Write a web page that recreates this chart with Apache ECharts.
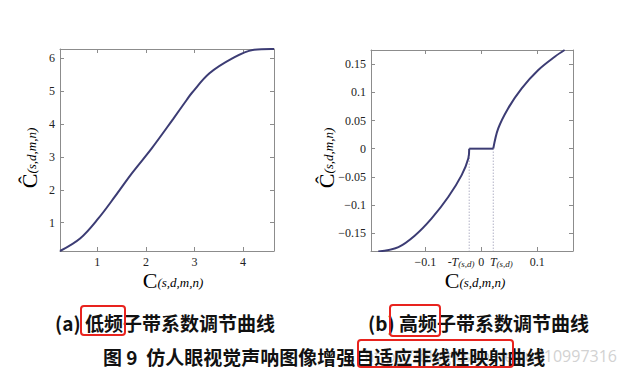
<!DOCTYPE html>
<html><head><meta charset="utf-8">
<script src="https://cdn.jsdelivr.net/npm/echarts@6/dist/echarts.min.js"></script>
<style>html,body{margin:0;padding:0;background:#fff}#c{width:625px;height:378px}</style>
</head><body><div id="c"></div><script>
// ---- data: low-frequency curve (a) ----
const lowX = [0.23, 0.65, 1.02, 1.36, 1.71, 2.12, 2.56, 2.84, 2.95, 3.31, 3.79, 4.20, 4.58, 4.64];
const lowY = [0.14, 0.53, 1.13, 1.79, 2.50, 3.26, 4.15, 4.73, 4.95, 5.54, 6.00, 6.25, 6.28, 6.28];
const lowXRange = [0.23, 4.64];
const lowYRange = [0.14, 6.28];
const lowTickX = [1, 2, 3, 4];
const lowTickY = [1, 2, 3, 4, 5, 6];

// ---- data: high-frequency curve (b) ----
const thresholdT = 0.0215;
const highNegX = [-0.184, -0.148, -0.118, -0.0886, -0.059, -0.035, -0.023, -0.0215];
const highNegY = [-0.183, -0.175, -0.154, -0.124, -0.086, -0.047, -0.017, 0];
const highPosX = [0.0215, 0.0304, 0.048, 0.072, 0.102, 0.132, 0.149];
const highPosY = [0, 0.036, 0.0716, 0.107, 0.140, 0.164, 0.1755];
const highXRange = [-0.197, 0.164];
const highYRange = [-0.182, 0.1755];
const highTickX = [-0.1, 0, 0.1];
const highLabelX = [-0.1, -0.036, 0, 0.036, 0.1];
const highLabelXText = ['\u22120.1', '-{t|T}{s|(s,d)}', '0', '{t|T}{s|(s,d)}', '0.1'];
const highTickY = [-0.15, -0.1, -0.05, 0, 0.05, 0.1, 0.15];
const highTickYText = ['\u22120.15', '\u22120.1', '\u22120.05', '0', '0.05', '0.1', '0.15'];

const zip = (a, b) => a.map((v, i) => [v, b[i]]);

const AX = '#8c8c8c';
const LINE = '#3c3c74';
const SERIF = 'Liberation Serif';
const lab = { fontFamily: SERIF, fontSize: 12, color: '#222' };

function xAx(gi, pos, range, ticks, labels, fmt) {
  return {
    gridIndex: gi, type: 'value', position: pos, min: range[0], max: range[1],
    axisLine: { show: true, onZero: false, lineStyle: { color: AX, width: 1 } },
    axisTick: { show: true, inside: true, length: 4, customValues: ticks, lineStyle: { color: AX } },
    axisLabel: pos === 'bottom' ? Object.assign({ show: true, margin: 5, customValues: labels, formatter: fmt, showMinLabel: true, showMaxLabel: true, hideOverlap: false,
      rich: { t: { fontFamily: SERIF, fontStyle: 'italic', fontSize: 12, lineHeight: 12, color: '#222' }, s: { fontFamily: SERIF, fontStyle: 'italic', fontSize: 9, lineHeight: 10, color: '#222', padding: [3, 0, 0, 0] } } }, lab) : { show: false },
    splitLine: { show: false }
  };
}
function yAx(gi, pos, range, ticks, fmt) {
  return {
    gridIndex: gi, type: 'value', position: pos, min: range[0], max: range[1],
    axisLine: { show: true, onZero: false, lineStyle: { color: AX, width: 1 } },
    axisTick: { show: true, inside: true, length: 4, customValues: ticks, lineStyle: { color: AX } },
    axisLabel: pos === 'left' ? Object.assign({ show: true, margin: 5, customValues: ticks, formatter: fmt }, lab) : { show: false },
    splitLine: { show: false }
  };
}

const titleRich = {
  c: { fontFamily: SERIF, fontSize: 22, lineHeight: 17, color: '#222' },
  s: { fontFamily: SERIF, fontSize: 13, lineHeight: 12, fontStyle: 'italic', color: '#222', padding: [5, 0, 0, 0] }
};
const capStyle = { fontFamily: 'Noto Sans CJK SC', fontSize: 19, fontWeight: 'bold', fill: '#111', verticalAlign: 'middle' };
const curve = { type: 'line', showSymbol: false, smooth: 0.35, lineStyle: { color: LINE, width: 2 } };

const chart = echarts.init(document.getElementById('c'), null, { renderer: 'svg' });
chart.setOption({
  backgroundColor: '#fff',
  animation: false,
  grid: [
    { left: 60, top: 49, width: 214, height: 202 },
    { left: 371, top: 50, width: 202, height: 201 }
  ],
  xAxis: [
    xAx(0, 'bottom', lowXRange, lowTickX, lowTickX, v => String(v)),
    xAx(0, 'top', lowXRange, lowTickX),
    xAx(1, 'bottom', highXRange, highTickX, highLabelX, v => highLabelXText[highLabelX.indexOf(v)] || ''),
    xAx(1, 'top', highXRange, highTickX)
  ],
  yAxis: [
    yAx(0, 'left', lowYRange, lowTickY, v => String(v)),
    yAx(0, 'right', lowYRange, lowTickY),
    yAx(1, 'left', highYRange, highTickY, v => highTickYText[highTickY.indexOf(v)] || ''),
    yAx(1, 'right', highYRange, highTickY)
  ],
  series: [
    Object.assign({}, curve, { xAxisIndex: 0, yAxisIndex: 0, data: zip(lowX, lowY) }),
    Object.assign({}, curve, { xAxisIndex: 2, yAxisIndex: 2, data: zip(highNegX, highNegY) }),
    Object.assign({}, curve, { xAxisIndex: 2, yAxisIndex: 2, smooth: false, data: [[-thresholdT, 0], [thresholdT, 0]] }),
    Object.assign({}, curve, { xAxisIndex: 2, yAxisIndex: 2, data: zip(highPosX, highPosY) }),
    { type: 'line', xAxisIndex: 2, yAxisIndex: 2, data: [[-thresholdT, 0], [-thresholdT, highYRange[0]]], showSymbol: false, z: 1, lineStyle: { color: '#8a8aa8', width: 1, type: [1, 2] } },
    { type: 'line', xAxisIndex: 2, yAxisIndex: 2, data: [[thresholdT, 0], [thresholdT, highYRange[0]]], showSymbol: false, z: 1, lineStyle: { color: '#8a8aa8', width: 1, type: [1, 2] } }
  ],
  graphic: [
    { type: 'text', x: 173, y: 280, style: { text: '{c|C}{s|(s,d,m,n)}', rich: titleRich, align: 'center', verticalAlign: 'middle' } },
    { type: 'text', x: 475, y: 280, style: { text: '{c|C}{s|(s,d,m,n)}', rich: titleRich, align: 'center', verticalAlign: 'middle' } },
    { type: 'text', x: 29, y: 158, rotation: Math.PI / 2, style: { text: '{c|\u0108}{s|(s,d,m,n)}', rich: titleRich, align: 'center', verticalAlign: 'middle' } },
    { type: 'text', x: 326, y: 158, rotation: Math.PI / 2, style: { text: '{c|\u0108}{s|(s,d,m,n)}', rich: titleRich, align: 'center', verticalAlign: 'middle' } },
    { type: 'text', x: 617, y: 356, z: 1, style: { text: 'https://blog.csdn.net/u010997316', fontFamily: 'Open Sans', fontSize: 16, fill: '#d2d2d2', align: 'right', verticalAlign: 'middle' } },
    { type: 'text', x: 55, y: 322, z: 5, style: Object.assign({ text: '(a) 低频子带系数调节曲线' }, capStyle) },
    { type: 'text', x: 368, y: 322, z: 5, style: Object.assign({ text: '(b) 高频子带系数调节曲线' }, capStyle) },
    { type: 'text', x: 103, y: 356, z: 5, style: Object.assign({ text: '图 9  仿人眼视觉声呐图像增强自适应非线性映射曲线' }, capStyle) },
    { type: 'rect', z: 6, shape: { x: 81, y: 306, width: 44, height: 29, r: 3 }, style: { fill: 'none', stroke: '#e8231e', lineWidth: 2 } },
    { type: 'rect', z: 6, shape: { x: 390, y: 305, width: 50, height: 31, r: 3 }, style: { fill: 'none', stroke: '#e8231e', lineWidth: 2 } },
    { type: 'rect', z: 6, shape: { x: 358, y: 340, width: 155, height: 27, r: 3 }, style: { fill: 'none', stroke: '#e8231e', lineWidth: 2 } }
  ]
});
</script></body></html>
